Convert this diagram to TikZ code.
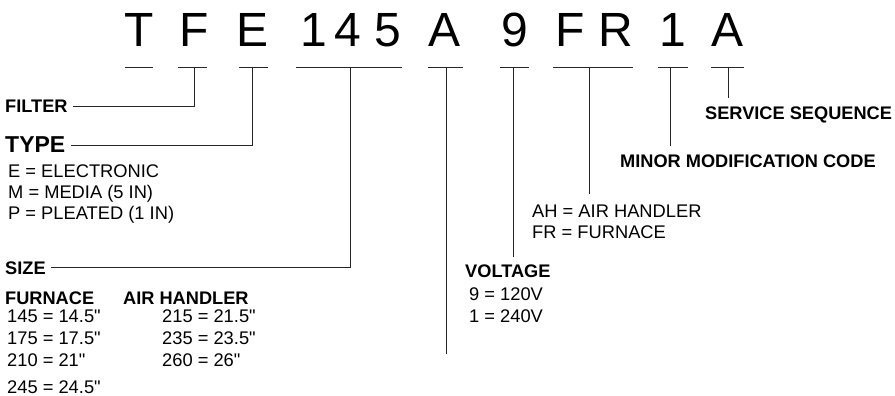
\documentclass[tikz,border=0pt]{standalone}
\usepackage{fontspec}
\setmainfont{Liberation Sans}[Ligatures=TeXOff]
\begin{document}
\begin{tikzpicture}[x=1pt,y=-1pt,
  big/.style={font=\fontsize{48}{48}\selectfont, inner sep=0pt, anchor=base},
  lbl/.style={font=\fontsize{18.2}{21}\selectfont\bfseries, inner sep=0pt, anchor=base west},
  txt/.style={font=\fontsize{18.3}{21}\selectfont, inner sep=0pt, anchor=base west},
  ln/.style={line width=0.9pt, draw=black!85}]
\useasboundingbox (0,0) rectangle (895,396);

% code letters
\node[big] (cT)  at (139,47) {T};
\node[big] (cF)  at (194,47) {F};
\node[big] (cE)  at (253,47) {E};
\node[big] (c1)  at (314,47) {1};
\node[big] (c4)  at (348,47) {4};
\node[big] (c5)  at (388,47) {5};
\node[big] (cA)  at (445,47) {A};
\node[big] (c9)  at (515,47) {9};
\node[big] (cF2) at (570,47) {F};
\node[big] (cR)  at (616,47) {R};
\node[big] (c12) at (673,47) {1};
\node[big] (cA2) at (728,47) {A};

% underline bars
\coordinate (uT1) at (125,67); \coordinate (uT2) at (153,67);
\coordinate (uF1) at (178,67); \coordinate (uF2) at (207,67); \coordinate (tF) at (194,67);
\coordinate (uE1) at (239,67); \coordinate (uE2) at (268,67); \coordinate (tE) at (252,67);
\coordinate (uS1) at (296,67); \coordinate (uS2) at (402,67); \coordinate (tS) at (350,67);
\coordinate (uA1) at (428,67); \coordinate (uA2) at (463,67); \coordinate (tA) at (446,67);
\coordinate (u91) at (500,67); \coordinate (u92) at (529,67); \coordinate (t9) at (513,67);
\coordinate (uR1) at (553,67); \coordinate (uR2) at (633,67); \coordinate (tR) at (589,67);
\coordinate (uM1) at (658,67); \coordinate (uM2) at (688,67); \coordinate (tM) at (670,67);
\coordinate (uQ1) at (711,67); \coordinate (uQ2) at (744,67); \coordinate (tQ) at (728,67);
\coordinate (aEnd) at (446,354);

\foreach \a/\b in {uT1/uT2,uF1/uF2,uE1/uE2,uS1/uS2,uA1/uA2,u91/u92,uR1/uR2,uM1/uM2,uQ1/uQ2}
  \draw[ln] (\a) -- (\b);

% left labels
\node[lbl] (filter) at (5,113) {FILTER};
\node[lbl, font=\fontsize{23}{24}\selectfont\bfseries] (type) at (5,153) {TYPE};
\node[txt] (tE1) at (8,177) {E = ELECTRONIC};
\node[txt] (tE2) at (8,198) {M = MEDIA (5 IN)};
\node[txt] (tE3) at (8,219) {P = PLEATED (1 IN)};

\node[lbl] (size) at (5,274) {SIZE};
\node[lbl] (furn) at (5,304) {FURNACE};
\node[lbl] (airh) at (123,304) {AIR HANDLER};
\node[txt] (f1) at (7,322) {145 = 14.5"};
\node[txt] (f2) at (7,344) {175 = 17.5"};
\node[txt] (f3) at (7,366) {210 = 21"};
\node[txt] (f4) at (7,393) {245 = 24.5"};
\node[txt] (h1) at (162,322) {215 = 21.5"};
\node[txt] (h2) at (162,344) {235 = 23.5"};
\node[txt] (h3) at (162,366) {260 = 26"};

% right labels
\node[lbl] (volt) at (465,277) {VOLTAGE};
\node[txt] (v1) at (469,300) {9 = 120V};
\node[txt] (v2) at (469,322) {1 = 240V};
\node[txt] (ah) at (532,217) {AH = AIR HANDLER};
\node[txt] (fr) at (532,238) {FR = FURNACE};
\node[lbl] (minor) at (620,167) {MINOR MODIFICATION CODE};
\node[lbl] (serv) at (705,120) {SERVICE SEQUENCE};

% connectors
\draw[ln] (tF) |- ([xshift=5pt]filter.east);
\draw[ln] (tE) |- ([xshift=6pt]type.east);
\draw[ln] (tS) |- ([xshift=5pt]size.east);
\draw[ln] (tA) -- (aEnd);
\draw[ln, shorten >=7pt] (t9) -- (t9 |- volt.north);
\draw[ln, shorten >=10pt] (tR) -- (tR |- ah.north);
\draw[ln, shorten >=8pt] (tM) -- (tM |- minor.north);
\draw[ln, shorten >=9pt] (tQ) -- (tQ |- serv.north);
\end{tikzpicture}
\end{document}
